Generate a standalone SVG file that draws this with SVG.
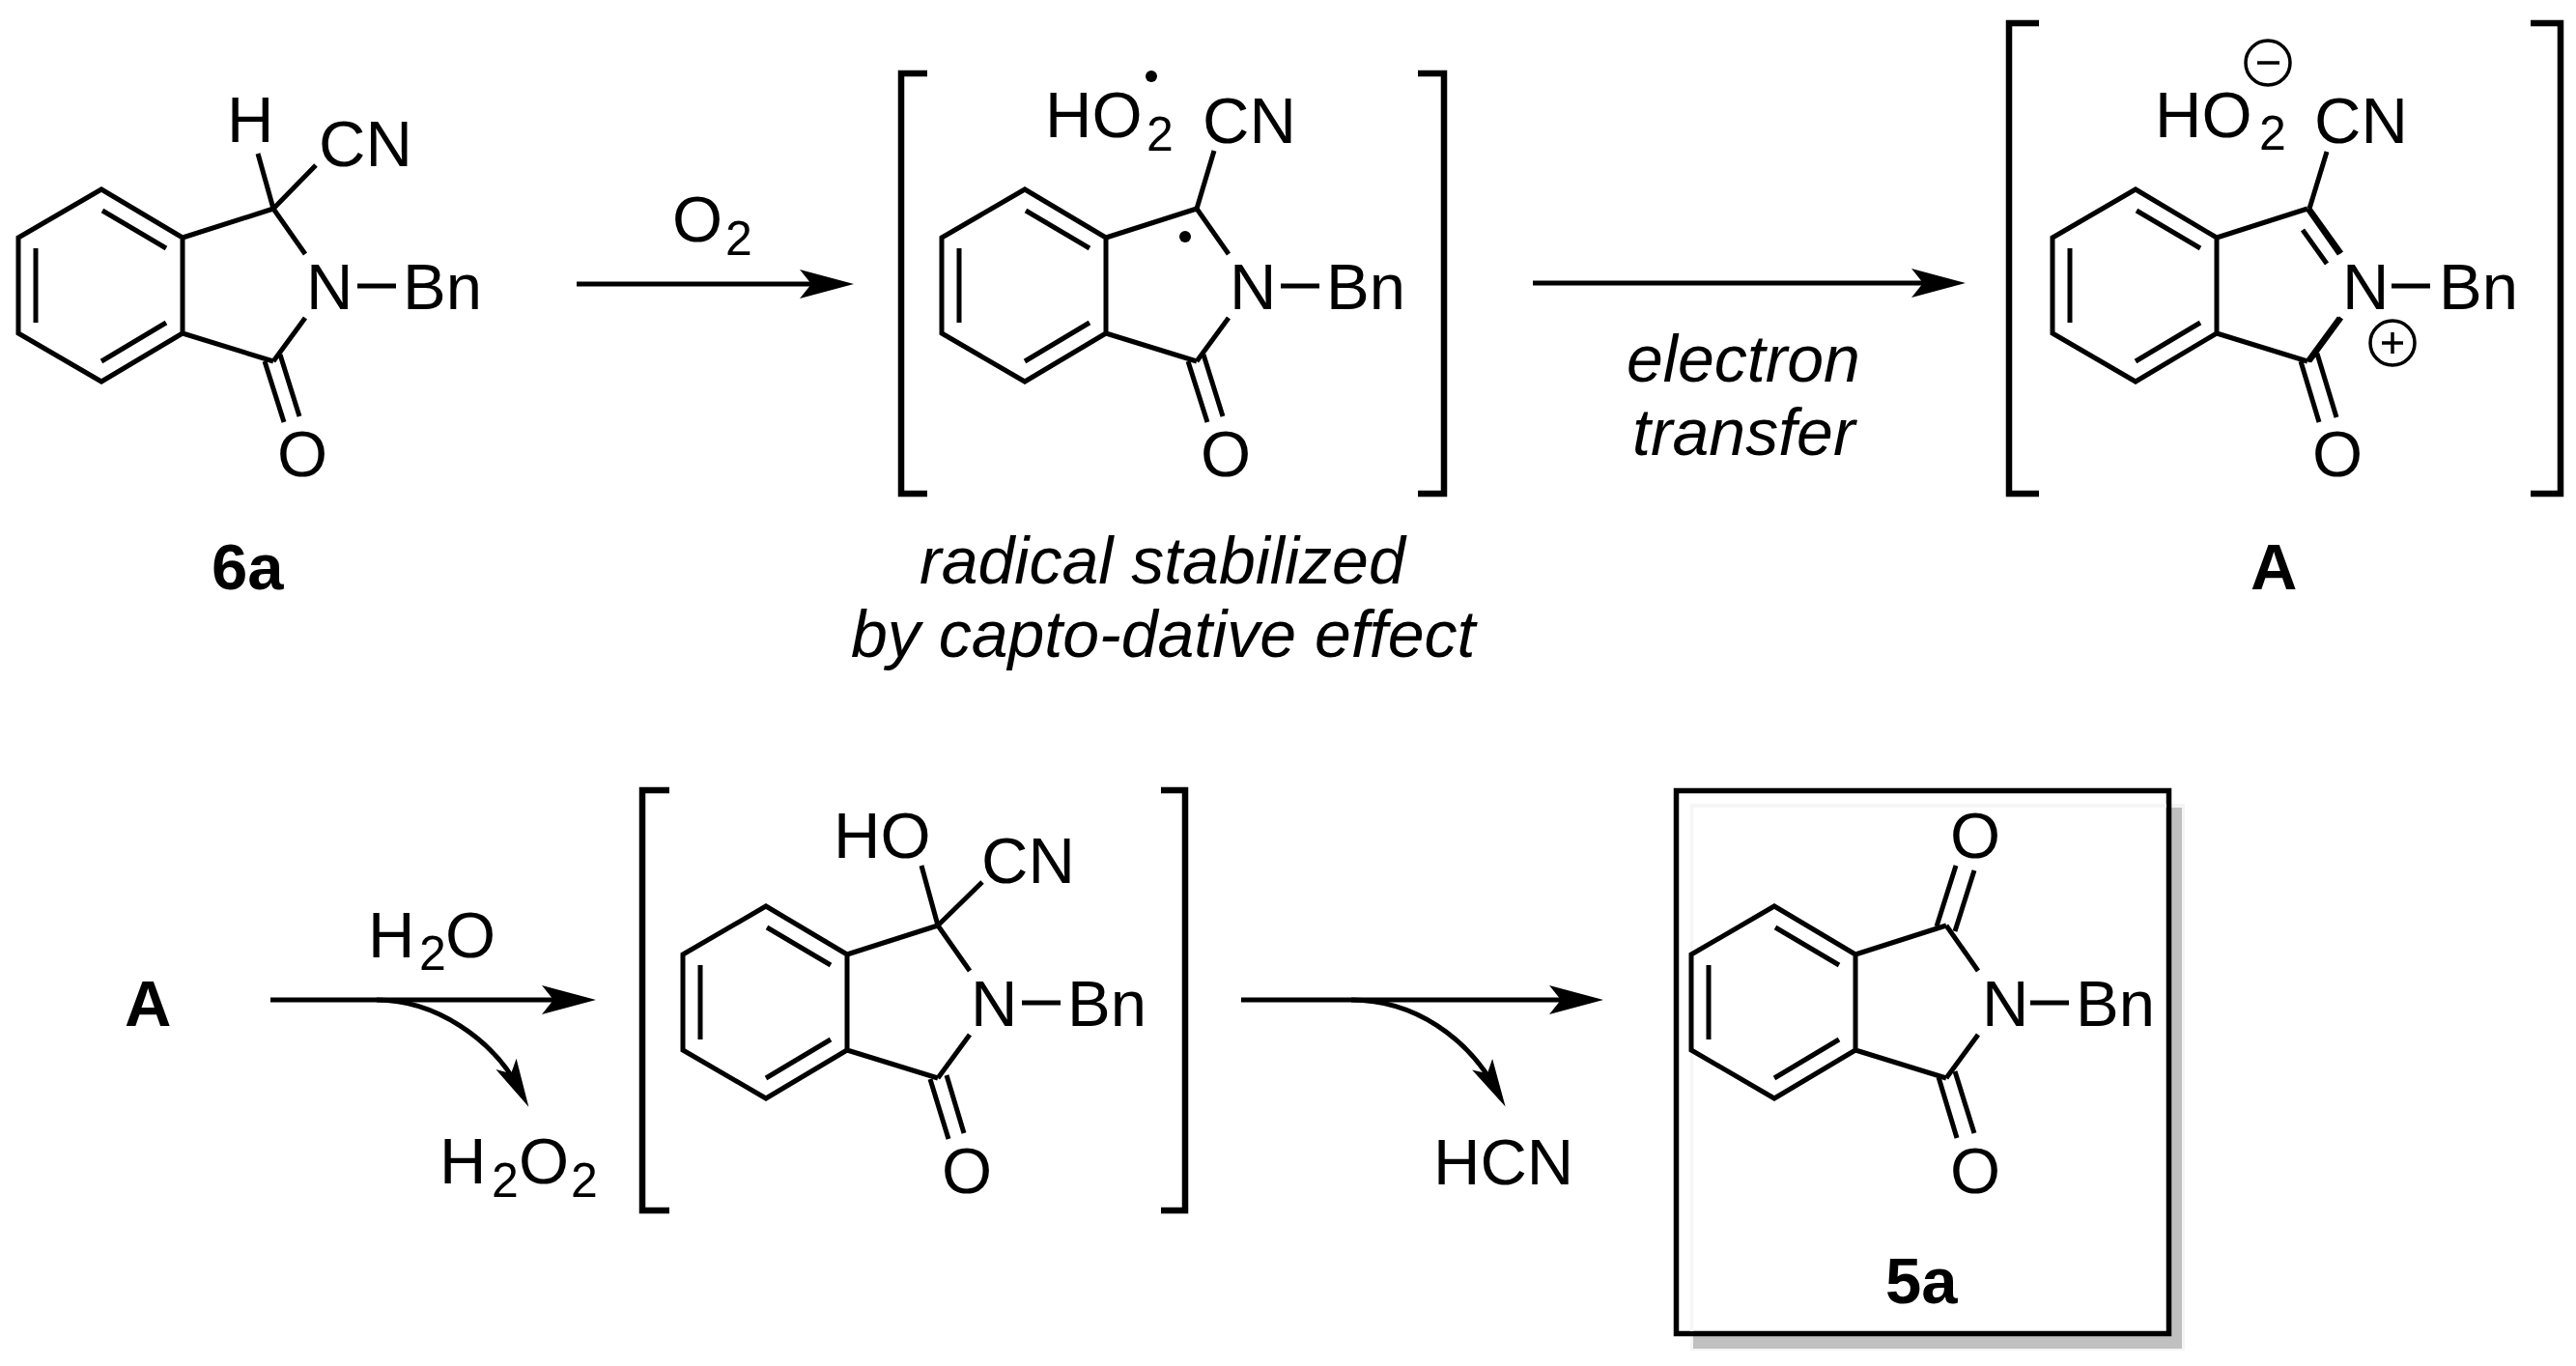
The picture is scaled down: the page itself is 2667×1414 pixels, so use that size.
<svg xmlns="http://www.w3.org/2000/svg" width="2667" height="1414" viewBox="0 0 2667 1414">
<style>
text{font-family:"Liberation Sans",Arial,sans-serif;font-size:67px;fill:#000}
.sub{font-size:50px}
.b{font-weight:bold}
.i{font-style:italic;font-size:68px}
.bond{fill:none;stroke:#000;stroke-width:5}
.arr{fill:none;stroke:#000;stroke-width:5}
.br{fill:none;stroke:#000;stroke-width:6.5}
.chg{fill:none;stroke:#000;stroke-width:3.5}
</style>
<defs>
<marker id="head" markerUnits="userSpaceOnUse" markerWidth="56" markerHeight="36" refX="36" refY="18" orient="auto"><path d="M0,3L56,18L0,33L12,18Z" fill="#000"/></marker>
<marker id="headc" markerUnits="userSpaceOnUse" markerWidth="50" markerHeight="30" refX="30" refY="15" orient="auto"><path d="M0,3L50,15L0,27L11,15Z" fill="#000"/></marker>
<g id="core">
<path class="bond" d="M189,246L105,196L19,246V345L105,395L189,345ZM283,216L189,246M189,345L283,374M283,216L316,263M283,374L316,329M106,218L172,257M37,257V334M105,374L172,334M370,296H410"/>
</g>
</defs>
<g id="box">
<rect x="1750" y="832" width="512" height="566" fill="#f5f5f5"/>
<rect x="1753" y="836" width="506" height="560" fill="#c0c0c0"/>
<rect x="1735.5" y="818.5" width="510" height="562" fill="#fff" stroke="#000" stroke-width="5.5"/>
<path d="M1751.5,1378V834H2243" fill="none" stroke="#f5f5f5" stroke-width="3.5"/>
</g>
<g id="mol-6a">
<use href="#core"/>
<path class="bond" d="M283,216L267,159M283,216L327,171M274,374L294,437M290,367L310,431"/>
<text x="235" y="147">H</text><text x="330" y="172">CN</text>
<text x="317" y="320">N</text><text x="417" y="320">Bn</text><text x="287" y="493">O</text>
<text class="b" x="219" y="610">6a</text>
</g>
<g id="mol-radical">
<use href="#core" x="956"/>
<path class="bond" d="M1239,216L1257,156M1230,374L1250,437M1246,367L1266,431"/>
<text x="1082" y="142">HO</text><text class="sub" x="1187" y="156">2</text><text x="1245" y="148">CN</text>
<circle cx="1192" cy="79" r="6"/><circle cx="1227" cy="245" r="6"/>
<text x="1273" y="320">N</text><text x="1373" y="320">Bn</text><text x="1243" y="493">O</text>
<path class="br" d="M960,76H933V511H960M1468,76H1495V511H1468"/>
<text class="i" x="952" y="604">radical stabilized</text>
<text class="i" x="881" y="680">by capto-dative effect</text>
</g>
<g id="mol-A">
<use href="#core" x="2106"/>
<path class="bond" d="M2391,216L2409,157M2391,216L2424,262M2384,238L2409,273M2391,374L2424,329M2382,374L2401,437M2399,366L2419,432"/>
<text x="2231" y="142">HO</text><text class="sub" x="2339" y="155">2</text><text x="2396" y="148">CN</text>
<circle class="chg" cx="2348" cy="65" r="23"/><path class="chg" d="M2337,65H2360"/>
<circle class="chg" cx="2477" cy="355" r="23"/><path class="chg" d="M2466,355H2488M2477,344V366"/>
<text x="2425" y="320">N</text><text x="2525" y="320">Bn</text><text x="2394" y="493">O</text>
<path class="br" d="M2111,24H2080V511H2111M2620,24H2651V511H2620"/>
<text class="b" x="2330" y="610">A</text>
</g>
<g id="label-A"><text class="b" x="129" y="1062">A</text></g>
<g id="mol-hydroxy">
<use href="#core" x="688" y="742"/>
<path class="bond" d="M971,958L954,896M971,958L1017,913M963,1117L982,1179M980,1113L998,1173"/>
<text x="863" y="888">HO</text><text x="1016" y="914">CN</text>
<text x="1005" y="1062">N</text><text x="1105" y="1062">Bn</text><text x="975" y="1235">O</text>
<path class="br" d="M693,818H665V1253H693M1202,818H1227V1253H1202"/>
</g>
<g id="mol-5a">
<use href="#core" x="1732" y="742"/>
<path class="bond" d="M2005,959L2025,896M2024,964L2044,901M2007,1115L2026,1178M2024,1109L2044,1173"/>
<text x="2019" y="888">O</text><text x="2019" y="1235">O</text>
<text x="2052" y="1062">N</text><text x="2149" y="1062">Bn</text>
<text class="b" x="1952" y="1349">5a</text>
</g>
<g id="connectors">
<path class="arr" d="M597,294H864" marker-end="url(#head)"/>
<path class="arr" d="M1587,293H2015" marker-end="url(#head)"/>
<path class="arr" d="M280,1035H597" marker-end="url(#head)"/>
<path class="arr" d="M390,1035C450,1035 510,1075 538,1128" marker-end="url(#headc)"/>
<path class="arr" d="M1285,1035H1640" marker-end="url(#head)"/>
<path class="arr" d="M1399,1035C1465,1035 1520,1075 1549,1128" marker-end="url(#headc)"/>
</g>
<g id="labels">
<text x="696" y="250">O</text><text class="sub" x="751" y="264">2</text>
<text class="i" x="1684" y="395">electron</text><text class="i" x="1690" y="471">transfer</text>
<text x="381" y="991">H</text><text class="sub" x="434" y="1004">2</text><text x="461" y="991">O</text>
<text x="455" y="1225">H</text><text class="sub" x="509" y="1239">2</text><text x="537" y="1225">O</text><text class="sub" x="591" y="1239">2</text>
<text x="1484" y="1226">HCN</text>
</g>
</svg>
